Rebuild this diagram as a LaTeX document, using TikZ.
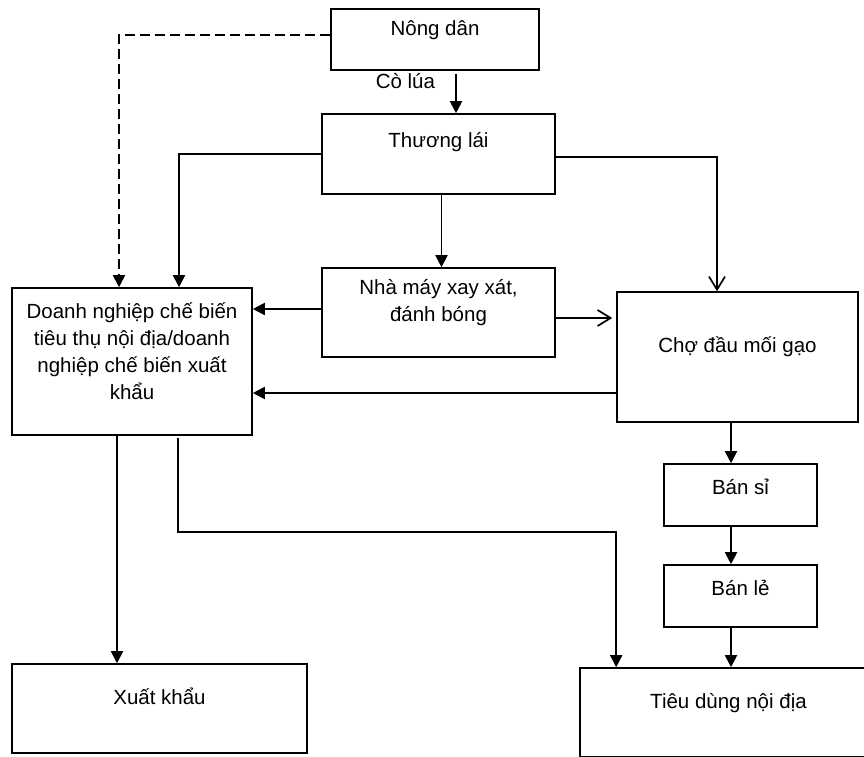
\documentclass[tikz,border=0pt]{standalone}
\usepackage{fontspec}
\setmainfont{Liberation Sans}
\usetikzlibrary{arrows.meta}

\begin{document}
\begin{tikzpicture}[x=1pt, y=-1pt, font=\fontsize{20.5pt}{27pt}\selectfont,
    box/.style={draw, line width=1.6pt, inner sep=0pt},
    arr/.style={line width=1.9pt, -{Triangle[width=12pt,length=12pt]}},
    openarr/.style={line width=1.7pt, -{Straight Barb[width=16pt,length=13pt]}}]

    \useasboundingbox (0,0) rectangle (864,756);
    \clip (0,0) rectangle (864,756);

    \node [box, minimum width=208pt, minimum height=61pt, label={[yshift=9.5pt]center:Nông dân}] (nong) at (435,39.5) {};
    \node [box, minimum width=233pt, minimum height=80pt, label={[yshift=11.5pt]center:Thương lái}] (thuong) at (438.5,154) {};
    \node [box, minimum width=233pt, minimum height=89pt, label={[yshift=9.5pt, align=center]center:{Nhà máy xay xát,\\đánh bóng}}] (nha) at (438.5,312.5) {};
    \node [box, minimum width=240pt, minimum height=147pt, label={[yshift=10.5pt, align=center]center:{Doanh nghiệp chế biến\\tiêu thụ nội địa/doanh\\nghiệp chế biến xuất\\khẩu}}] (dn) at (132,361.5) {};
    \node [box, minimum width=241pt, minimum height=130pt, label={[yshift=10pt]center:Chợ đầu mối gạo}] (cho) at (737.5,357) {};
    \node [box, minimum width=153pt, minimum height=62pt, label={[yshift=8pt]center:Bán sỉ}] (bansi) at (740.5,495) {};
    \node [box, minimum width=153pt, minimum height=62pt, label={[yshift=8.5pt]center:Bán lẻ}] (banle) at (740.5,596) {};
    \node [box, minimum width=295pt, minimum height=89pt, label={[yshift=12pt]center:Xuất khẩu}] (xuat) at (159.5,708.5) {};
    \node [box, minimum width=297pt, minimum height=89pt, label={[yshift=9.5pt]center:Tiêu dùng nội địa}] (tieu) at (728.5,712.5) {};
    \coordinate (retail) at (731,0);

    \draw [arr, shorten <=3pt] ([xshift=21pt]nong.south) -- ([xshift=21pt]nong.south |- thuong.north)
        node [pos=0.25, anchor=east, inner sep=0pt, xshift=-20pt] {Cò lúa};
    \draw [arr, dash pattern=on 10pt off 5pt] ([yshift=4.5pt]nong.west) -| ([xshift=-13pt]dn.north);
    \draw [arr] (thuong.west) -| ([xshift=47pt]dn.north);
    \draw [openarr] ([yshift=-3pt]thuong.east) -| ([xshift=-20.5pt]cho.north);
    \draw [arr] ([xshift=3pt]thuong.south) -- ([xshift=3pt]nha.north);
    \draw [arr] ([yshift=3.5pt]nha.west) -- ([yshift=3.5pt]nha.west -| dn.east);
    \draw [openarr, shorten >=4pt] ([yshift=-5.5pt]nha.east) -- ([yshift=-5.5pt]nha.east -| cho.west);
    \draw [arr] ([yshift=-36pt]cho.west) -- ([yshift=-36pt]cho.west -| dn.east);
    \draw [arr] ([xshift=-15pt]dn.south) -- ([xshift=-15pt]dn.south |- xuat.north);
    \draw [arr, shorten <=2pt] ([xshift=46pt]dn.south) -- ++(0,96) -| ([xshift=37pt]tieu.north west);
    \draw [arr] (cho.south -| retail) -- (bansi.north -| retail);
    \draw [arr] (bansi.south -| retail) -- (banle.north -| retail);
    \draw [arr] (banle.south -| retail) -- (tieu.north -| retail);
\end{tikzpicture}
\end{document}
